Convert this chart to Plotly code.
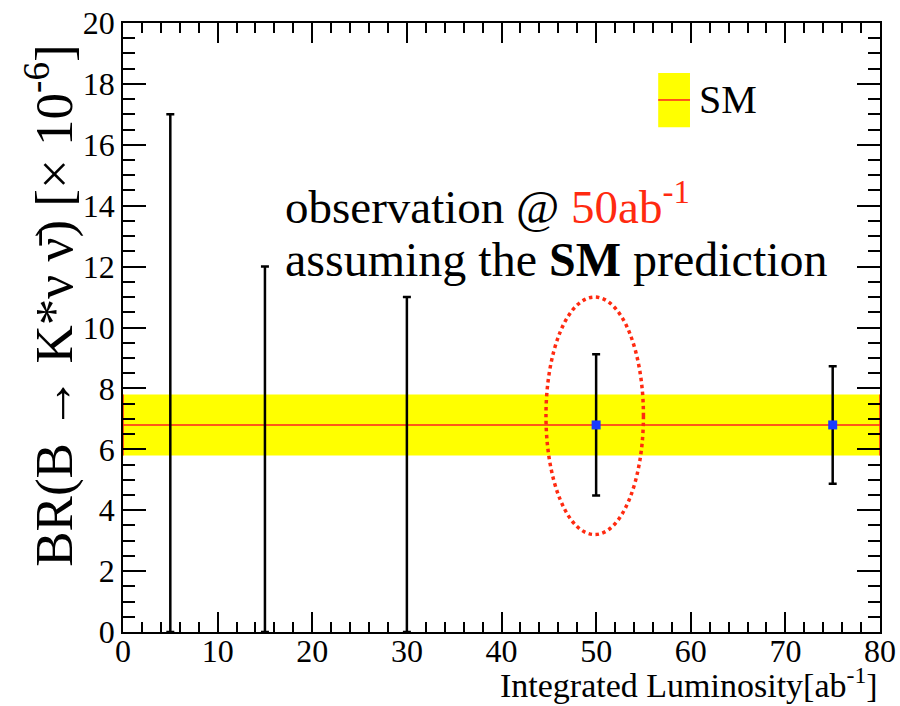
import plotly.graph_objects as go

# Luminosity scan: 90% upper limits at low luminosity, measurements at high luminosity
lumi_limit = [5, 15, 30]
br_limit = [17.0, 12.0, 11.0]

lumi_meas = [50, 75]
br_meas = [6.8, 6.8]
br_err = [2.32, 1.93]

# Standard Model prediction band
sm_central = 6.8
sm_err = 1.0
x_range = [0, 80]
y_range = [0, 20]

# Highlight around the 50 ab^-1 point
ellipse_x = [44.7, 55.0]
ellipse_y = [3.2, 11.0]

x_ticks = [0, 10, 20, 30, 40, 50, 60, 70, 80]
y_ticks = [0, 2, 4, 6, 8, 10, 12, 14, 16, 18, 20]

SERIF = "Liberation Serif"

fig = go.Figure()

# SM band (yellow fill)
fig.add_trace(go.Scatter(
    x=[x_range[0], x_range[1], x_range[1], x_range[0], x_range[0]],
    y=[sm_central - sm_err, sm_central - sm_err, sm_central + sm_err,
       sm_central + sm_err, sm_central - sm_err],
    fill="toself", fillcolor="#ffff00", mode="none",
    hoverinfo="skip", showlegend=False))

# SM central line and band edges in red
fig.add_trace(go.Scatter(
    x=[x_range[0], x_range[1], None, x_range[0], x_range[0], None,
       x_range[1], x_range[1]],
    y=[sm_central, sm_central, None, sm_central - sm_err, sm_central + sm_err,
       None, sm_central - sm_err, sm_central + sm_err],
    mode="lines", line=dict(color="#ff2020", width=1.5),
    hoverinfo="skip", showlegend=False, cliponaxis=False))

# Upper limits drawn as bars from zero
fig.add_trace(go.Scatter(
    x=lumi_limit, y=[0] * len(lumi_limit), mode="markers",
    marker=dict(size=1, color="rgba(0,0,0,0)"),
    error_y=dict(type="data", symmetric=False, array=br_limit,
                 arrayminus=[0] * len(lumi_limit),
                 color="black", thickness=2.5, width=4),
    showlegend=False))

# Measurements with uncertainties
fig.add_trace(go.Scatter(
    x=lumi_meas, y=br_meas, mode="markers",
    marker=dict(symbol="square", size=9, color="#1a3cff"),
    error_y=dict(type="data", array=br_err, color="black",
                 thickness=2.5, width=4),
    showlegend=False))


def axis_style(rng, vals, major_len, minor_dtick, minor_len, standoff):
    return dict(
        range=rng, tickmode="array", tickvals=vals,
        ticktext=[str(v) for v in vals],
        showline=True, linecolor="black", linewidth=1.5,
        ticks="inside", ticklen=major_len, tickcolor="black", tickwidth=1.5,
        mirror="allticks", showgrid=False, zeroline=False,
        automargin=False, ticklabelstandoff=standoff,
        tickfont=dict(family=SERIF, size=32, color="black"),
        minor=dict(dtick=minor_dtick, ticklen=minor_len, ticks="inside",
                   tickcolor="black", tickwidth=1.5, showgrid=False),
    )


fig.update_layout(
    width=900, height=706,
    margin=dict(l=123, r=20, t=23, b=74, autoexpand=False),
    paper_bgcolor="white", plot_bgcolor="white",
    font=dict(family=SERIF, size=32, color="black"),
    xaxis=axis_style(x_range, x_ticks, 20, 2, 10, -10),
    yaxis=axis_style(y_range, y_ticks, 23, 0.5, 12, 0),
    shapes=[
        dict(type="circle", xref="x", yref="y",
             x0=ellipse_x[0], x1=ellipse_x[1],
             y0=ellipse_y[0], y1=ellipse_y[1],
             line=dict(color="#ff2a10", width=3.5, dash="dot")),
        # legend swatch
        dict(type="rect", xref="paper", yref="paper",
             x0=0.707, x1=0.749, y0=0.829, y1=0.918,
             fillcolor="#ffff00", line=dict(width=0)),
        dict(type="line", xref="paper", yref="paper",
             x0=0.707, x1=0.749, y0=0.8736, y1=0.8736,
             line=dict(color="#ff2020", width=1.5)),
    ],
    annotations=[
        dict(text="SM", xref="paper", yref="paper", x=0.758, y=0.8736,
             xanchor="left", yanchor="middle", showarrow=False,
             font=dict(family=SERIF, size=40, color="black")),
        dict(text="observation @ <span style='color:#ff2a10'>50ab<sup>-1</sup></span>",
             xref="paper", yref="paper", x=0.212, y=0.704,
             xanchor="left", yanchor="middle", showarrow=False,
             font=dict(family=SERIF, size=47, color="black")),
        dict(text="assuming the <b>SM</b> prediction",
             xref="paper", yref="paper", x=0.212, y=0.611,
             xanchor="left", yanchor="middle", showarrow=False,
             font=dict(family=SERIF, size=48, color="black")),
        dict(text="Integrated Luminosity[ab<sup>-1</sup>]",
             xref="paper", yref="paper", x=1.0, y=-0.121,
             xanchor="right", yanchor="bottom", showarrow=False,
             font=dict(family=SERIF, size=34, color="black")),
        dict(text="BR(B \u2192 K*\u03bd \u03bd\u0304) [\u00d7 10<sup>-6</sup>]",
             xref="paper", yref="paper", x=-0.097, y=0.535,
             xanchor="center", yanchor="middle", textangle=-90,
             showarrow=False,
             font=dict(family=SERIF, size=53, color="black")),
    ],
)

fig.write_html("out.html")
